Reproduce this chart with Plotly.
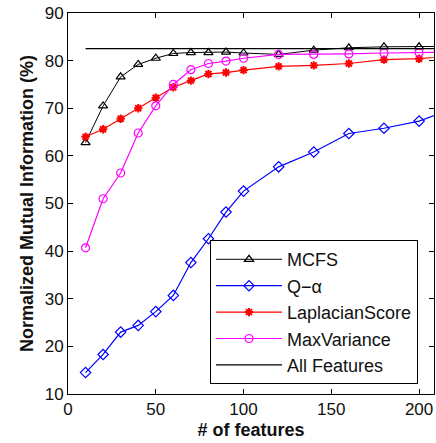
import plotly.graph_objects as go

# Number of selected features
n_features = [10, 20, 30, 40, 50, 60, 70, 80, 90, 100, 120, 140, 160, 180, 200, 220]

# Normalized mutual information (%) for each method
mcfs = [62.8, 70.5, 76.6, 79.2, 80.5, 81.5, 81.7, 81.7, 81.8, 81.6, 81.3, 82.2, 82.7, 82.9, 82.9, 83.0]
q_alpha = [14.5, 18.3, 23.0, 24.4, 27.3, 30.7, 37.6, 42.6, 48.2, 52.6, 57.7, 60.8, 64.7, 65.8, 67.3, 70.0]
laplacian = [64.0, 65.6, 67.8, 70.0, 72.2, 74.4, 75.8, 77.2, 77.5, 78.0, 78.8, 79.0, 79.4, 80.2, 80.4, 81.0]
max_variance = [40.7, 51.0, 56.4, 64.8, 70.5, 75.0, 78.1, 79.4, 79.9, 80.5, 81.3, 81.3, 81.4, 81.6, 81.7, 81.8]

# Baseline using all features
all_features_x = [10, 220]
all_features = [82.5, 82.5]

x_ticks = [0, 50, 100, 150, 200]
y_ticks = [10, 20, 30, 40, 50, 60, 70, 80, 90]

font_family = "Liberation Sans, Arial, sans-serif"

fig = go.Figure()

fig.add_trace(go.Scatter(
    x=n_features, y=mcfs, name="MCFS", mode="lines+markers",
    line=dict(color="black", width=1),
    marker=dict(symbol="triangle-up-open", size=8, color="black", line=dict(width=1.2)),
))
fig.add_trace(go.Scatter(
    x=n_features, y=q_alpha, name="Q\u2212\u03b1", mode="lines+markers",
    line=dict(color="#0000ff", width=1.2),
    marker=dict(symbol="diamond-open", size=8, color="#0000ff", line=dict(width=1.2)),
))
fig.add_trace(go.Scatter(
    x=n_features, y=laplacian, name="LaplacianScore", mode="lines+markers",
    line=dict(color="#ff0000", width=1.2),
    marker=dict(symbol="asterisk-open", size=7, color="#ff0000", line=dict(width=2, color="#ff0000")),
))
fig.add_trace(go.Scatter(
    x=n_features, y=max_variance, name="MaxVariance", mode="lines+markers",
    line=dict(color="#ff00ff", width=1.2),
    marker=dict(symbol="circle-open", size=8, color="#ff00ff", line=dict(width=1.2)),
))
fig.add_trace(go.Scatter(
    x=all_features_x, y=all_features, name="All Features", mode="lines",
    line=dict(color="black", width=1.2),
))

axis_common = dict(
    showgrid=False, zeroline=False,
    showline=True, linecolor="black", linewidth=1, mirror="ticks",
    ticks="inside", ticklen=5, tickwidth=1, tickcolor="black",
    tickfont=dict(family=font_family, size=17, color="#111"),
)

fig.update_xaxes(
    range=[0, 208.5], tickvals=x_ticks,
    title=dict(text="<b># of features</b>", font=dict(family=font_family, size=18, color="#111"), standoff=4),
    **axis_common,
)
fig.update_yaxes(
    range=[10, 90], tickvals=y_ticks,
    title=dict(text="<b>Normalized Mutual Information (%)</b>", font=dict(family=font_family, size=18, color="#111"), standoff=6),
    **axis_common,
)

fig.update_layout(
    width=436, height=443,
    margin=dict(l=68, r=2, t=13, b=49),
    paper_bgcolor="white", plot_bgcolor="white",
    font=dict(family=font_family, color="#111"),
    legend=dict(
        x=0.388, y=0.026, xanchor="left", yanchor="bottom",
        bgcolor="white", bordercolor="black", borderwidth=1,
        font=dict(family=font_family, size=18, color="#111"),
        itemwidth=66, tracegroupgap=0,
    ),
    showlegend=True,
)

fig.write_html("out.html")
